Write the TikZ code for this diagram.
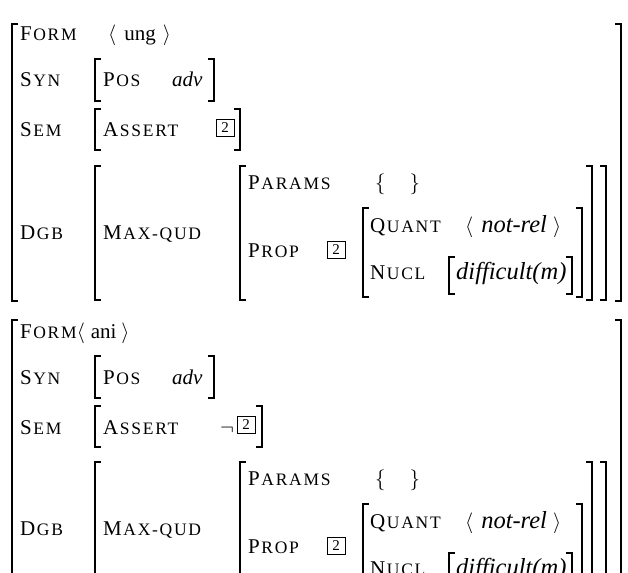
\documentclass[tikz,border=0pt]{standalone}
\usepackage{fontspec}
\setmainfont{Liberation Serif}
\newfontfamily\scf[LetterSpace=10]{Liberation Serif}
\newcommand{\att}[2]{{\scf\fontsize{21}{22}\selectfont #1\kern1.5pt\fontsize{17.5}{18}\selectfont #2}}
\newcommand{\val}[1]{{\itshape\fontsize{24.5}{26}\selectfont #1}}
\newcommand{\LB}[3]{\draw[brk] (#1+6,#2) -| (#1,#3) -- (#1+6,#3);}
\newcommand{\RB}[3]{\draw[brk] (#1-6,#2) -| (#1,#3) -- (#1-6,#3);}
\tikzset{
  txt/.style={inner sep=0pt, anchor=base west, font=\fontsize{21}{24}\selectfont},
  boxn/.style={draw, line width=0.7pt, inner sep=0pt, minimum width=18pt, minimum height=17pt, font=\fontsize{15}{15}\selectfont},
  brk/.style={line width=1.5pt, line cap=butt, line join=miter}
}
\begin{document}
\begin{tikzpicture}[x=1pt,y=-1pt]
\fill[white] (0,0) rectangle (628,572);
\useasboundingbox (0,0) rectangle (628,572);
\clip (0,0) rectangle (628,572);
% ---------------- AVM 1 ----------------
\LB{12}{24}{301} \RB{621}{24}{301}
\node[txt] (f1) at (20,41) {\att{F}{ORM}};
\node[txt] (fv1) at (108,41) {$\langle$\hspace{8pt}ung\hspace{7pt}$\rangle$};
\node[txt] (s1) at (20,87) {\att{S}{YN}};
\LB{95}{59}{101} \RB{214}{59}{101}
\node[txt] (p1) at (103,87) {\att{P}{OS}};
\node[txt] (a1) at (172,87) {\itshape\fontsize{21}{24}\selectfont adv};
\node[txt] (m1) at (20,137) {\att{S}{EM}};
\LB{95}{109}{150} \RB{240}{109}{150}
\node[txt] (as1) at (103,137) {\att{A}{SSERT}};
\node[boxn] (b1) at (225,128) {2};
\node[txt] (d1) at (20,239) {\att{D}{GB}};
\LB{95}{166}{300} \RB{606}{166}{300}
\node[txt] (mq1) at (103,239) {\att{M}{AX-QUD}};
\LB{240}{166}{300} \RB{592}{166}{300}
\node[txt] (pa1) at (248,189) {\att{P}{ARAMS}};
\node[txt] (br1) at (375,189) {$\{$\hspace{24pt}$\}$};
\node[txt] (pr1) at (248,257) {\att{P}{ROP}};
\node[boxn] (b2) at (336,250) {2};
\LB{363}{208}{297} \RB{582}{208}{297}
\node[txt] (q1) at (370,232) {\att{Q}{UANT}};
\node[txt] (qv1) at (465,232) {$\langle$\hspace{8pt}\val{not-rel}\hspace{6pt}$\rangle$};
\node[txt] (n1) at (370,279) {\att{N}{UCL}};
\LB{449}{257}{294} \RB{572}{257}{294}
\node[txt] (nv1) at (456,279) {\val{difficult(m)}};
% ---------------- AVM 2 ----------------
\LB{12}{320}{601} \RB{621}{320}{601}
\node[txt] (f2) at (20,338) {\att{F}{ORM}$\langle$\hspace{6pt}ani\hspace{5pt}$\rangle$};
\node[txt] (s2) at (20,384) {\att{S}{YN}};
\LB{95}{356}{398} \RB{214}{356}{398}
\node[txt] (p2) at (103,384) {\att{P}{OS}};
\node[txt] (a2) at (172,384) {\itshape\fontsize{21}{24}\selectfont adv};
\node[txt] (m2) at (20,434) {\att{S}{EM}};
\LB{95}{406}{447} \RB{262}{406}{447}
\node[txt] (as2) at (103,434) {\att{A}{SSERT}};
\node[txt] (ng2) at (220,434) {$\neg$};
\node[boxn] (b3) at (246,425) {2};
\node[txt] (d2) at (20,535) {\att{D}{GB}};
\LB{95}{462}{600} \RB{606}{462}{600}
\node[txt] (mq2) at (103,535) {\att{M}{AX-QUD}};
\LB{240}{462}{600} \RB{592}{462}{600}
\node[txt] (pa2) at (248,485) {\att{P}{ARAMS}};
\node[txt] (br2) at (375,485) {$\{$\hspace{24pt}$\}$};
\node[txt] (pr2) at (248,553) {\att{P}{ROP}};
\node[boxn] (b4) at (336,546) {2};
\LB{363}{504}{593} \RB{582}{504}{593}
\node[txt] (q2) at (370,528) {\att{Q}{UANT}};
\node[txt] (qv2) at (465,528) {$\langle$\hspace{8pt}\val{not-rel}\hspace{6pt}$\rangle$};
\node[txt] (n2) at (370,575) {\att{N}{UCL}};
\LB{449}{553}{590} \RB{572}{553}{590}
\node[txt] (nv2) at (456,575) {\val{difficult(m)}};
\end{tikzpicture}
\end{document}
